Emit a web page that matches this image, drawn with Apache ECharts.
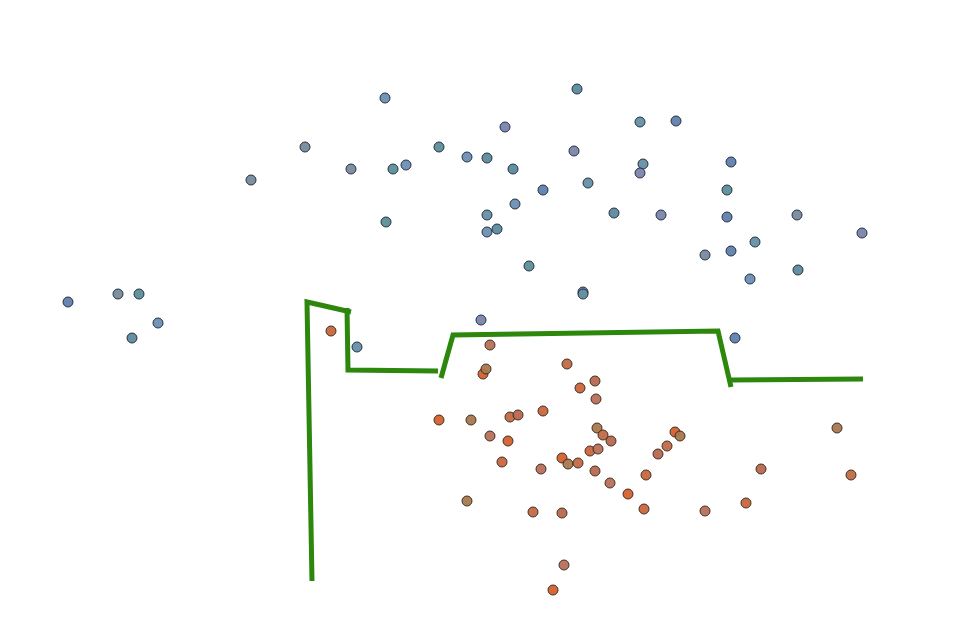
<!DOCTYPE html>
<html><head><meta charset="utf-8">
<script src="https://cdn.jsdelivr.net/npm/echarts@6/dist/echarts.min.js"></script>
<style>html,body{margin:0;padding:0;background:#fff}#c{width:956px;height:631px}</style>
</head><body><div id="c"></div>
<script>
// Class A (blue) points [x, y]
const classA = [
[38.5,53.3],[57.7,54.2],[50.5,50.4],[64.0,50.9],[67.6,51.0],[30.5,48.4],[43.9,48.4],[46.7,47.4],
[48.7,47.3],[57.4,48.0],[64.3,46.7],[73.1,46.9],[35.1,46.2],[39.3,46.2],[40.6,46.6],[51.3,46.2],
[64.0,45.8],[58.8,44.8],[54.3,44.1],[25.1,45.1],[72.7,44.1],[51.5,42.7],[61.4,41.8],[66.1,41.6],
[48.7,41.6],[72.7,41.4],[79.7,41.6],[38.6,40.9],[48.7,39.9],[49.7,40.2],[86.2,39.8],[75.5,38.9],
[73.1,38.0],[70.5,37.6],[52.9,36.5],[75.0,35.2],[79.8,36.1],[58.3,33.9],[58.3,33.7],[6.8,32.9],
[11.8,33.7],[13.9,33.7],[15.8,30.8],[13.2,29.3],[48.1,31.1],[35.7,28.4],[73.5,29.3]
];
// Class B (orange) points [x, y]
const classB = [
[33.1,30.0],[49.0,28.6],[48.3,25.7],[48.6,26.2],[56.7,26.7],[59.5,25.0],[58.0,24.3],[59.6,23.2],
[43.9,21.1],[47.1,21.1],[51.0,21.4],[51.8,21.6],[54.3,22.0],[49.0,19.5],[50.8,19.0],[59.7,20.3],
[60.3,19.6],[61.1,19.0],[59.0,18.0],[59.8,18.2],[67.5,19.9],[68.0,19.5],[66.7,18.5],[65.8,17.7],
[50.2,16.9],[54.1,16.2],[56.2,17.3],[56.8,16.7],[57.8,16.8],[59.5,16.0],[64.6,15.6],[61.0,14.8],
[62.8,13.7],[46.7,13.0],[53.3,11.9],[56.2,11.8],[64.4,12.2],[56.4,6.6],[55.3,4.1],[83.7,20.3],
[85.1,15.6],[76.1,16.2],[74.6,12.8],[70.5,12.0]
];
// Decision boundary segments
const boundarySegments = [
  [[31.2,5.0],[30.7,32.9],[35.1,31.9]],
  [[34.7,32.3],[34.8,26.1],[43.8,26.0]],
  [[44.1,25.3],[45.3,29.6],[71.8,30.0],[73.1,24.4]],
  [[73.1,25.1],[86.3,25.2]]
];
const blueTones = ['#6a8fb4','#5d8a9e','#7a84ad','#6590a6','#5f7fae','#788a9c','#5a8f98'];
const orangeTones = ['#c9673f','#b8705a','#d4602f','#a8784f','#c26a48','#b96850'];

const chart = echarts.init(document.getElementById('c'));
const series = [];
boundarySegments.forEach(seg => series.push({
  type:'line', data:seg, symbol:'none', z:1,
  lineStyle:{color:'#2c870c', width:5, cap:'butt', join:'miter'}
}));
series.push({
  type:'scatter', symbolSize:10, z:3,
  data: classA.map((p,i)=>({value:p, itemStyle:{color:blueTones[i%blueTones.length]}})),
  itemStyle:{borderColor:'#1f2a3a', borderWidth:1, opacity:0.95}
});
series.push({
  type:'scatter', symbolSize:10, z:3,
  data: classB.map((p,i)=>({value:p, itemStyle:{color:orangeTones[i%orangeTones.length]}})),
  itemStyle:{borderColor:'#3a2a1a', borderWidth:1, opacity:0.95}
});
chart.setOption({
  animation:false,
  backgroundColor:'#ffffff',
  grid:{left:0,right:0,top:0,bottom:0},
  xAxis:{type:'value', min:0, max:95.6, show:false},
  yAxis:{type:'value', min:0, max:63.1, show:false},
  series
});
</script></body></html>
